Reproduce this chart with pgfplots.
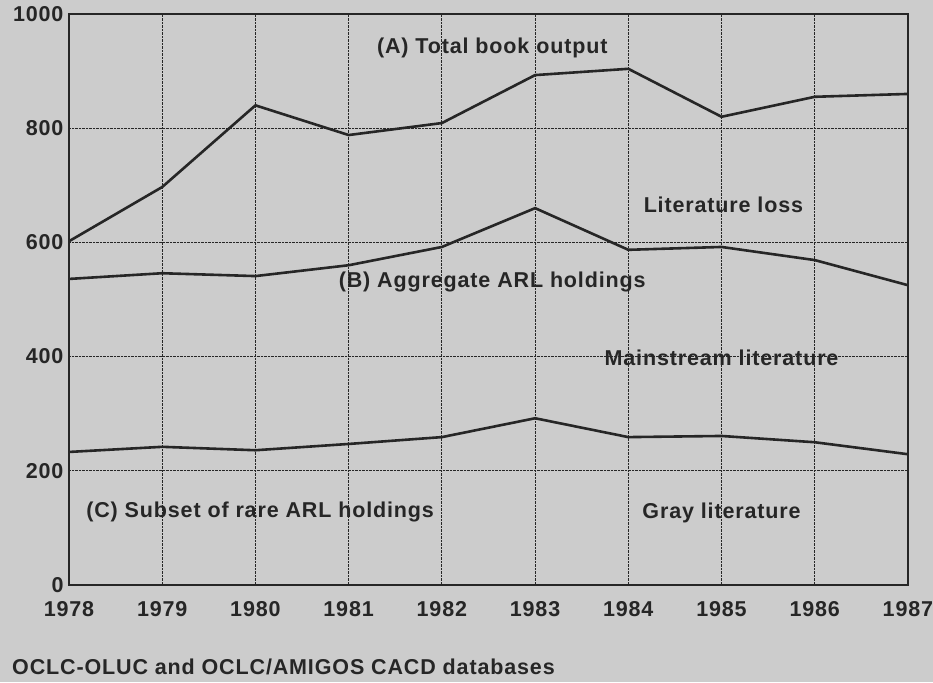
\documentclass[border=0pt]{standalone}
\usepackage{fontspec}
\setmainfont[LetterSpace=4]{Liberation Sans}
\usepackage{pgfplots}
\pgfplotsset{compat=1.18}
\definecolor{bg}{RGB}{204,204,204}
\definecolor{ink}{RGB}{38,38,38}
\newcommand{\lbl}{\fontsize{21.5}{25}\selectfont\bfseries}
\tikzset{dataline/.style={ink, line width=2.6pt, line join=round, no marks}}
\begin{document}
\begin{tikzpicture}[x=1pt,y=1pt]
\useasboundingbox (0,0) rectangle (933,682);
\fill[bg] (0,0) rectangle (933,682);
\begin{axis}[at={(69pt,97pt)}, anchor=south west, scale only axis,
  width=839pt, height=571pt,
  xmin=1978, xmax=1987, ymin=0, ymax=1000,
  xtick={1978,...,1987}, ytick={0,200,...,1000},
  grid=major, grid style={densely dotted, ink, line width=0.9pt},
  major tick length=0pt,
  axis line style={ink, line width=1.6pt},
  /pgf/number format/assume math mode=true,
  /pgf/number format/1000 sep={},
  tick label style={font=\lbl, text=ink},
  yticklabel style={xshift=-2pt},
  xticklabel style={yshift=-13pt},
  clip=false]
\addplot[dataline] coordinates {(1978,602) (1979,697) (1980,840) (1981,788) (1982,809) (1983,893) (1984,904) (1985,820) (1986,855) (1987,860)};
\addplot[dataline] coordinates {(1978,536) (1979,546) (1980,541) (1981,560) (1982,592) (1983,660) (1984,587) (1985,592) (1986,569) (1987,525)};
\addplot[dataline] coordinates {(1978,233) (1979,242) (1980,236) (1981,247) (1982,259) (1983,292) (1984,259) (1985,261) (1986,250) (1987,229)};
\begin{scope}[every node/.style={font=\lbl, text=ink}]
\node at (axis cs:1982.54,940) {(A) Total book output};
\node at (axis cs:1985.02,665) {Literature loss};
\node at (axis cs:1982.54,531) {(B) Aggregate ARL holdings};
\node at (axis cs:1985.0,398) {Mainstream literature};
\node at (axis cs:1980.05,128) {(C) Subset of rare ARL holdings};
\node at (axis cs:1985.0,126) {Gray literature};
\end{scope}
\end{axis}
\node[anchor=west, inner sep=0pt, font=\lbl, text=ink] at (12,15) {OCLC-OLUC and OCLC/AMIGOS CACD databases};
\end{tikzpicture}
\end{document}
